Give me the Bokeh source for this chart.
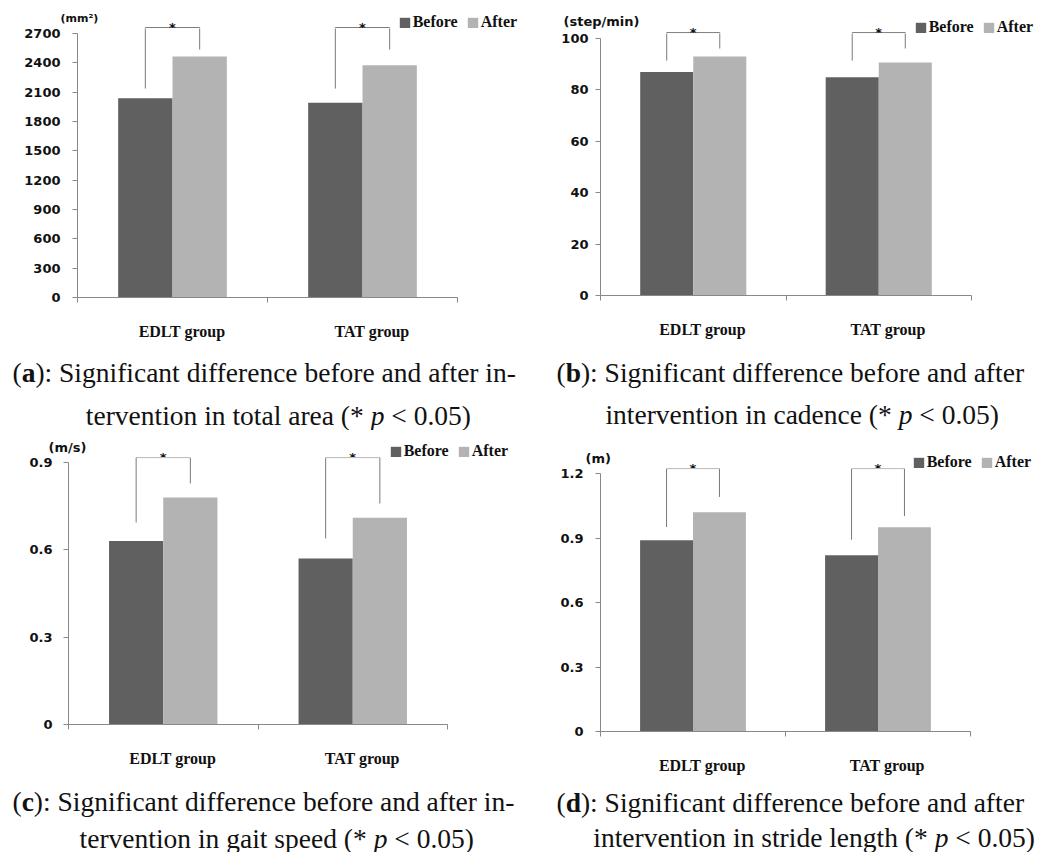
from bokeh.plotting import figure
from bokeh.models import Range1d, LinearAxis, FixedTicker, Legend, LegendItem, Label
from bokeh.layouts import column, row
from bokeh.embed import file_html
from bokeh.resources import INLINE
from bokeh.core.properties import value

# ---------------- data ----------------
groups = ["EDLT group", "TAT group"]
series = ["Before", "After"]

area_before = [2038, 1991]
area_after = [2465, 2376]
area_ticks = [0, 300, 600, 900, 1200, 1500, 1800, 2100, 2400, 2700]
area_tick_labels = ["0", "300", "600", "900", "1200", "1500", "1800", "2100", "2400", "2700"]
area_unit = "(mm²)"
area_sig_left = [2137, 2137]
area_sig_top = [2761, 2761]
area_sig_right = [2536, 2536]

cad_before = [87.0, 84.9]
cad_after = [93.0, 90.7]
cad_ticks = [0, 20, 40, 60, 80, 100]
cad_tick_labels = ["0", "20", "40", "60", "80", "100"]
cad_unit = "(step/min)"
cad_sig_left = [91.4, 91.4]
cad_sig_top = [102.3, 102.3]
cad_sig_right = [96.1, 96.1]

speed_before = [0.63, 0.57]
speed_after = [0.78, 0.71]
speed_ticks = [0, 0.3, 0.6, 0.9]
speed_tick_labels = ["0", "0.3", "0.6", "0.9"]
speed_unit = "(m/s)"
speed_sig_left = [0.694, 0.639]
speed_sig_top = [0.917, 0.917]
speed_sig_right = [0.828, 0.759]

stride_before = [0.89, 0.82]
stride_after = [1.02, 0.95]
stride_ticks = [0, 0.3, 0.6, 0.9, 1.2]
stride_tick_labels = ["0", "0.3", "0.6", "0.9", "1.2"]
stride_unit = "(m)"
stride_sig_left = [0.951, 0.892]
stride_sig_top = [1.223, 1.223]
stride_sig_right = [1.091, 1.002]

caption_letters = ["a", "b", "c", "d"]
caption_line1 = ["): Significant difference before and after in-",
                 "): Significant difference before and after",
                 "): Significant difference before and after in-",
                 "): Significant difference before and after"]
caption_line2_left = ["tervention in total area (*",
                      "intervention in cadence (*",
                      "tervention in gait speed (*",
                      "intervention in stride length (*"]
caption_line2_right = ["< 0.05)", "< 0.05)", "< 0.05)", "< 0.05)"]

# ---------------- styles / layout ----------------
BEFORE_COLOR = "#606060"
AFTER_COLOR = "#b3b3b3"
AXIS_COLOR = "#888888"
BRACKET_COLOR = "#7a7a7a"
TEXT_COLOR = "#111111"
SERIF = "Liberation Serif"
SANS = "DejaVu Sans"
CAP_SIZE = 27.5
BOLD_W = {"a": 0.5, "b": 0.556, "c": 0.444, "d": 0.556}
BAR_W = 0.286
LABEL_SHIFT = 0.05
LEG_H = 20

# page geometry (pixels from the page's top-left corner)
panels = [
    dict(before=area_before, after=area_after, ticks=area_ticks, labels=area_tick_labels,
         unit=area_unit, sl=area_sig_left, st=area_sig_top, sr=area_sig_right,
         ox=0, oy=0, W=529, H=430, fl=77, fr=457, zero=297, tt=33, standoff=12, cap_top=346,
         unit_xy=(60, 18), unit_size=11, leg=(399, 21), c1=(12, 372), c2=(377, 415)),
    dict(before=cad_before, after=cad_after, ticks=cad_ticks, labels=cad_tick_labels,
         unit=cad_unit, sl=cad_sig_left, st=cad_sig_top, sr=cad_sig_right,
         ox=529, oy=0, W=529, H=430, fl=600, fr=971, zero=295, tt=38, standoff=7, cap_top=346,
         unit_xy=(563, 21), unit_size=13, leg=(915, 26), c1=(556, 372), c2=(905, 414)),
    dict(before=speed_before, after=speed_after, ticks=speed_ticks, labels=speed_tick_labels,
         unit=speed_unit, sl=speed_sig_left, st=speed_sig_top, sr=speed_sig_right,
         ox=0, oy=430, W=529, H=422, fl=68, fr=447, zero=724, tt=462, standoff=11, cap_top=776,
         unit_xy=(48, 447), unit_size=13, leg=(390, 450), c1=(12, 801), c2=(380, 838)),
    dict(before=stride_before, after=stride_after, ticks=stride_ticks, labels=stride_tick_labels,
         unit=stride_unit, sl=stride_sig_left, st=stride_sig_top, sr=stride_sig_right,
         ox=529, oy=430, W=529, H=422, fl=600, fr=970, zero=731, tt=473, standoff=12, cap_top=777,
         unit_xy=(585, 458), unit_size=13, leg=(913, 461), c1=(556, 802), c2=(941, 837)),
]


def style_fig(p):
    p.grid.visible = False
    p.outline_line_color = None
    p.background_fill_color = "white"
    p.border_fill_color = "white"
    return p


def blank(W, H, xr, yr):
    p = figure(width=W, height=H, output_backend="svg", toolbar_location=None,
               x_range=xr, y_range=yr, x_axis_location=None, y_axis_location=None,
               min_border=0, frame_align=False)
    return style_fig(p)


def make_panel(g, k):
    top_tick = g["ticks"][-1]
    per_px = top_tick / (g["zero"] - g["tt"])          # data units per pixel
    cw = (g["fr"] - g["fl"]) / len(groups)             # pixels per category
    sb = g["tt"] - 5                                   # strip / chart boundary
    idx = list(range(len(groups)))
    xb = [i + 0.5 - BAR_W / 2 for i in idx]
    xa = [i + 0.5 + BAR_W / 2 for i in idx]
    xs = [[xb[i], xb[i], xa[i], xa[i]] for i in idx]
    ys = [[g["sl"][i], g["st"][i], g["st"][i], g["sr"][i]] for i in idx]

    # ---- top strip: unit, legend, stars, bracket tops ----
    strip = blank(g["W"], sb - g["oy"],
                  Range1d((g["ox"] - g["fl"]) / cw, (g["ox"] + g["W"] - g["fl"]) / cw),
                  Range1d((g["zero"] - sb) * per_px, (g["zero"] - g["oy"]) * per_px))
    # ---- main chart ----
    chart = figure(width=g["W"], height=g["cap_top"] - sb, output_backend="svg", toolbar_location=None,
                   x_range=Range1d(0, len(groups)), y_range=Range1d(0, (g["zero"] - sb) * per_px),
                   x_axis_location=None, y_axis_location=None, frame_align=False,
                   min_border_left=g["fl"] - g["ox"], min_border_right=g["ox"] + g["W"] - g["fr"],
                   min_border_top=0, min_border_bottom=g["cap_top"] - g["zero"])
    style_fig(chart)

    rends = {}
    for name, p in (("strip", strip), ("chart", chart)):
        rb = p.vbar(x=xb, top=g["before"], width=BAR_W, fill_color=BEFORE_COLOR, line_color=None)
        ra = p.vbar(x=xa, top=g["after"], width=BAR_W, fill_color=AFTER_COLOR, line_color=None)
        p.multi_line(xs=xs, ys=ys, line_color=BRACKET_COLOR, line_width=1)
        rends[name] = (rb, ra)

    # stars
    strip.text(x=[i + 0.5 for i in idx], y=g["st"], text=["*"] * len(idx), text_align="center",
               text_baseline="alphabetic", text_font=value(SANS), text_font_style="bold",
               text_font_size="13px", text_color=TEXT_COLOR)

    # legend
    lx, lcy = g["leg"]
    rb, ra = rends["strip"]
    legend = Legend(items=[LegendItem(label=series[0], renderers=[rb]),
                           LegendItem(label=series[1], renderers=[ra])],
                    orientation="horizontal",
                    location=(lx - g["ox"] - 1.3, sb - (lcy + LEG_H / 2)),
                    glyph_width=13, glyph_height=13, label_standoff=2, spacing=8,
                    padding=0, margin=0, label_height=13,
                    border_line_color=None, background_fill_alpha=0,
                    label_text_font=SERIF, label_text_font_style="bold",
                    label_text_font_size="16px", label_text_color=TEXT_COLOR)
    strip.add_layout(legend)

    # unit label
    ux, uy = g["unit_xy"]
    strip.add_layout(Label(x=ux - g["ox"], y=sb - uy, x_units="screen", y_units="screen",
                           text=g["unit"], text_align="left", text_baseline="middle",
                           text_font=SANS, text_font_style="bold",
                           text_font_size=f'{g["unit_size"]}px', text_color=TEXT_COLOR))

    # y axis
    yax = LinearAxis(ticker=FixedTicker(ticks=g["ticks"], minor_ticks=[]), bounds=(0, top_tick),
                     major_label_overrides={t: l for t, l in zip(g["ticks"], g["labels"])})
    yax.axis_line_color = AXIS_COLOR
    yax.major_tick_line_color = AXIS_COLOR
    yax.major_tick_out = 5
    yax.major_tick_in = 0
    yax.minor_tick_line_color = None
    yax.major_label_text_font = SANS
    yax.major_label_text_font_style = "bold"
    yax.major_label_text_font_size = "13px"
    yax.major_label_text_color = TEXT_COLOR
    yax.major_label_standoff = g["standoff"]
    chart.add_layout(yax, "left")

    # x axis: category boundaries as minor ticks, names near the centres
    lab_ticks = [i + 0.5 + LABEL_SHIFT for i in idx]
    xax = LinearAxis(ticker=FixedTicker(ticks=lab_ticks, minor_ticks=[0, 1, 2]), bounds=(0, len(groups)),
                     major_label_overrides={t: gname for t, gname in zip(lab_ticks, groups)})
    xax.axis_line_color = AXIS_COLOR
    xax.major_tick_line_color = None
    xax.major_tick_out = 0
    xax.major_tick_in = 0
    xax.minor_tick_line_color = AXIS_COLOR
    xax.minor_tick_out = 5
    xax.minor_tick_in = 0
    xax.major_label_text_font = SERIF
    xax.major_label_text_font_style = "bold"
    xax.major_label_text_font_size = "16px"
    xax.major_label_text_color = TEXT_COLOR
    xax.major_label_standoff = 20
    chart.add_layout(xax, "below")

    # ---- caption ----
    cap_h = g["oy"] + g["H"] - g["cap_top"]
    cap = blank(g["W"], cap_h, Range1d(0, 1), Range1d(0, 1))
    bottom = g["oy"] + g["H"]

    def lab(text, px, py, align="left", style="normal"):
        cap.add_layout(Label(x=px - g["ox"], y=bottom - py, x_units="screen", y_units="screen",
                             text=text, text_align=align, text_baseline="alphabetic", text_font=SERIF,
                             text_font_style=style, text_font_size=f"{CAP_SIZE}px", text_color=TEXT_COLOR))

    s = CAP_SIZE
    cx, cy = g["c1"]
    letter = caption_letters[k]
    lab("(", cx, cy)
    lab(letter, cx + 0.333 * s, cy, style="bold")
    lab(caption_line1[k], cx + 0.333 * s + BOLD_W[letter] * s, cy)
    pcx, pcy = g["c2"]
    lab(caption_line2_left[k], pcx - 0.5 * s, pcy, align="right")
    lab("p", pcx, pcy, align="center", style="italic")
    lab(caption_line2_right[k], pcx + 0.5 * s, pcy)

    return column(strip, chart, cap)


cols = [make_panel(g, k) for k, g in enumerate(panels)]
layout = column(row(cols[0], cols[1]), row(cols[2], cols[3]))

open("out.html", "w").write(file_html(layout, INLINE))
